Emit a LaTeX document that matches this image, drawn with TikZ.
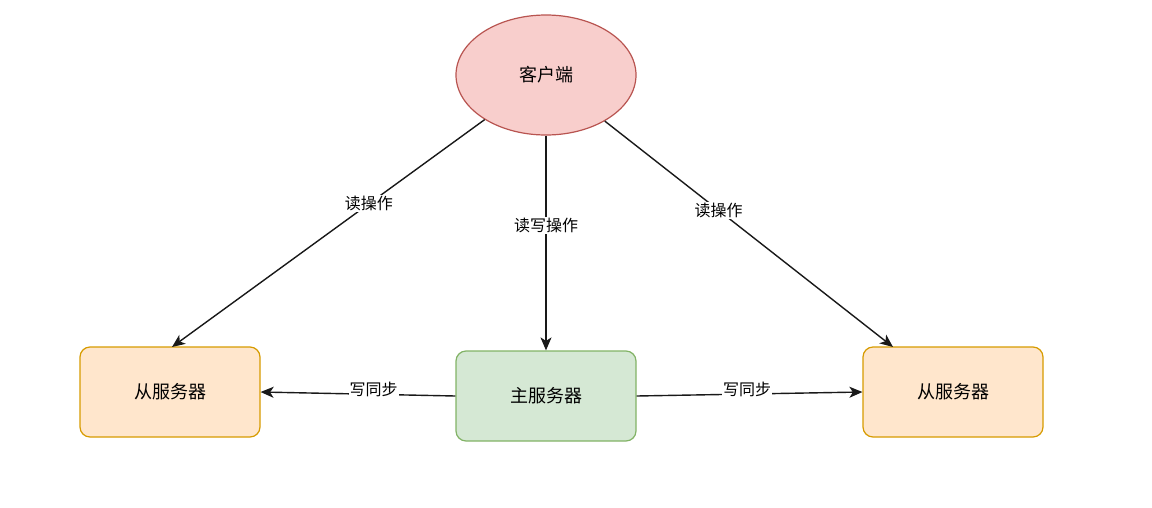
\documentclass[tikz,border=0pt]{standalone}
\usepackage{fontspec}
\setmainfont{Noto Sans CJK SC}
\usetikzlibrary{shapes.geometric,arrows.meta}
\definecolor{cfill}{HTML}{F8CECC}
\definecolor{cline}{HTML}{B85450}
\definecolor{gfill}{HTML}{D5E8D4}
\definecolor{gline}{HTML}{82B366}
\definecolor{ofill}{HTML}{FFE6CC}
\definecolor{oline}{HTML}{D79B00}
\tikzset{
  box/.style={rectangle, rounded corners=10pt, minimum width=180pt, minimum height=90pt, line width=1.2pt, inner sep=0pt, font=\fontsize{18}{21}\selectfont},
  master/.style={box, draw=gline, fill=gfill},
  slave/.style={box, draw=oline, fill=ofill},
  client/.style={ellipse, draw=cline, fill=cfill, minimum width=180pt, minimum height=120pt, line width=1.2pt, inner sep=0pt, font=\fontsize{18}{21}\selectfont},
  conn/.style={draw=black!90, line width=1.4pt, -{Stealth[length=13pt,width=11pt,inset=3.5pt]}},
  elab/.style={fill=white, inner sep=1pt, font=\fontsize{16}{19}\selectfont}
}
\begin{document}
\begin{tikzpicture}[x=1pt,y=-1pt]
\useasboundingbox (0,0) rectangle (1152,507);
\node[client] (c) at (546,75) {客户端};
\node[master] (m) at (546,396) {主服务器};
\node[slave] (l) at (170,392) {从服务器};
\node[slave] (r) at (953,392) {从服务器};
\coordinate (lt) at (172,347);
\coordinate (rt) at (893,347);
\draw[conn] (c) -- node[elab, pos=0.37] {读操作} (lt);
\draw[conn] (c.south) -- node[elab, pos=0.42] {读写操作} (m.north);
\draw[conn] (c) -- node[elab, pos=0.395] {读操作} (rt);
\draw[conn] (m.west) -- node[elab, pos=0.42, yshift=5pt] {写同步} (l.east);
\draw[conn] (m.east) -- node[elab, pos=0.49, yshift=5pt] {写同步} (r.west);
\end{tikzpicture}
\end{document}
